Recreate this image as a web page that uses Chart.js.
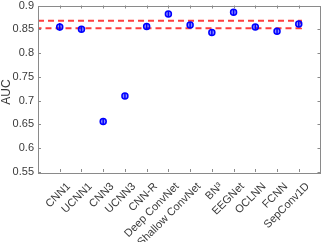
<!DOCTYPE html>
<html>
<head>
<meta charset="utf-8">
<script src="https://cdn.jsdelivr.net/npm/chart.js@4/dist/chart.umd.min.js"></script>
<style>
  html, body { margin: 0; padding: 0; background: #fff; }
  canvas { display: block; }
</style>
</head>
<body>
<canvas id="aucChart" width="326" height="242"></canvas>
<script>
// Modelos e AUC medio
const categories = ['CNN1', 'UCNN1', 'CNN3', 'UCNN3', 'CNN-R', 'Deep ConvNet', 'Shallow ConvNet',
    'BN\u00B3', 'EEGNet', 'OCLNN', 'FCNN', 'SepConv1D'];
const aucMean = [0.855, 0.850, 0.656, 0.710, 0.856, 0.882, 0.859, 0.843, 0.886, 0.855, 0.846, 0.861];
const aucErr = [0.008, 0.006, 0.006, 0.006, 0.007, 0.006, 0.006, 0.006, 0.006, 0.006, 0.006, 0.006];
const refBand = [0.852, 0.868];
const yTicks = [0.55, 0.6, 0.65, 0.7, 0.75, 0.8, 0.85, 0.9];

const blue = '#0000ff';
const axisColor = '#8a8a8a';
const textColor = '#3a3a3a';
const fontFamily = '"Liberation Sans", Arial, sans-serif';

// Barras de erro
const errorBars = {
    id: 'errorBars',
    afterDatasetsDraw(chart) {
        const ctx = chart.ctx;
        const x = chart.scales.x, y = chart.scales.y;
        ctx.save();
        ctx.strokeStyle = blue;
        ctx.lineWidth = 1.5;
        aucMean.forEach((m, i) => {
            const px = x.getPixelForValue(i + 1);
            ctx.beginPath();
            ctx.moveTo(px, y.getPixelForValue(m - aucErr[i]));
            ctx.lineTo(px, y.getPixelForValue(m + aucErr[i]));
            ctx.stroke();
        });
        ctx.restore();
    }
};

// Caixa com ticks para dentro (estilo MATLAB) + titulo do eixo y
const boxTicks = {
    id: 'boxTicks',
    afterDraw(chart) {
        const ctx = chart.ctx;
        const a = chart.chartArea;
        const x = chart.scales.x, y = chart.scales.y;
        const len = 3;
        ctx.save();
        ctx.strokeStyle = axisColor;
        ctx.lineWidth = 1;
        ctx.strokeRect(Math.round(a.left) + 0.5, Math.round(a.top) + 0.5,
            Math.round(a.right - a.left) - 1, Math.round(a.bottom - a.top));
        ctx.beginPath();
        categories.forEach((c, i) => {
            const px = Math.round(x.getPixelForValue(i + 1)) + 0.5;
            ctx.moveTo(px, a.bottom); ctx.lineTo(px, a.bottom - len);
            ctx.moveTo(px, a.top); ctx.lineTo(px, a.top + len);
        });
        yTicks.forEach(v => {
            const py = Math.round(y.getPixelForValue(v)) + 0.5;
            ctx.moveTo(a.left, py); ctx.lineTo(a.left + len, py);
            ctx.moveTo(a.right, py); ctx.lineTo(a.right - len, py);
        });
        ctx.stroke();

        ctx.translate(7, 92);
        ctx.rotate(-Math.PI / 2);
        ctx.fillStyle = textColor;
        ctx.font = '12px ' + fontFamily;
        ctx.textAlign = 'center';
        ctx.textBaseline = 'middle';
        ctx.fillText('AUC', 0, 0);
        ctx.restore();
    }
};

const points = categories.map((c, i) => ({ x: i + 1, y: aucMean[i] }));
const band = [
    { x: 0, y: refBand[1] }, { x: 12.1, y: refBand[1] },
    { x: 12.1, y: refBand[0] }, { x: 0, y: refBand[0] }
];

const ctx = document.getElementById('aucChart').getContext('2d');
const aucChart = new Chart(ctx, {
    type: 'scatter',
    data: {
        datasets: [{
            label: 'AUC',
            data: points,
            order: 0,
            pointStyle: 'circle',
            pointRadius: 3,
            borderColor: blue,
            backgroundColor: 'rgba(0,0,255,0.45)',
            borderWidth: 1.5
        }, {
            label: 'faixa',
            data: band,
            order: 1,
            showLine: true,
            borderColor: 'rgba(255,40,40,0.9)',
            borderWidth: 2,
            borderDash: [6, 4],
            pointRadius: 0,
            fill: false
        }]
    },
    options: {
        responsive: false,
        animation: false,
        layout: { padding: { top: 3, right: 2, left: 0, bottom: 0 } },
        plugins: {
            legend: { display: false },
            tooltip: { enabled: false }
        },
        scales: {
            x: {
                type: 'linear',
                min: 0,
                max: 13,
                afterBuildTicks(scale) {
                    scale.ticks = categories.map((c, i) => ({ value: i + 1 }));
                },
                afterFit(scale) {
                    scale.height = 70;
                    scale.paddingLeft = 0;
                    scale.paddingRight = 0;
                },
                grid: { display: false, drawTicks: false },
                border: { display: false },
                ticks: {
                    autoSkip: false,
                    minRotation: 45,
                    maxRotation: 45,
                    padding: 8,
                    labelOffset: 9,
                    color: textColor,
                    font: { family: fontFamily, size: 11 },
                    callback: v => categories[v - 1]
                }
            },
            y: {
                min: 0.55,
                max: 0.9,
                afterBuildTicks(scale) {
                    scale.ticks = yTicks.map(v => ({ value: v }));
                },
                afterFit(scale) {
                    scale.width = 38;
                    scale.paddingTop = 0;
                    scale.paddingBottom = 0;
                },
                grid: { display: false, drawTicks: false },
                border: { display: false },
                ticks: {
                    padding: 4,
                    color: textColor,
                    font: { family: fontFamily, size: 11 },
                    callback: v => parseFloat(v.toFixed(2)).toString()
                }
            }
        }
    },
    plugins: [errorBars, boxTicks]
});
</script>
</body>
</html>
